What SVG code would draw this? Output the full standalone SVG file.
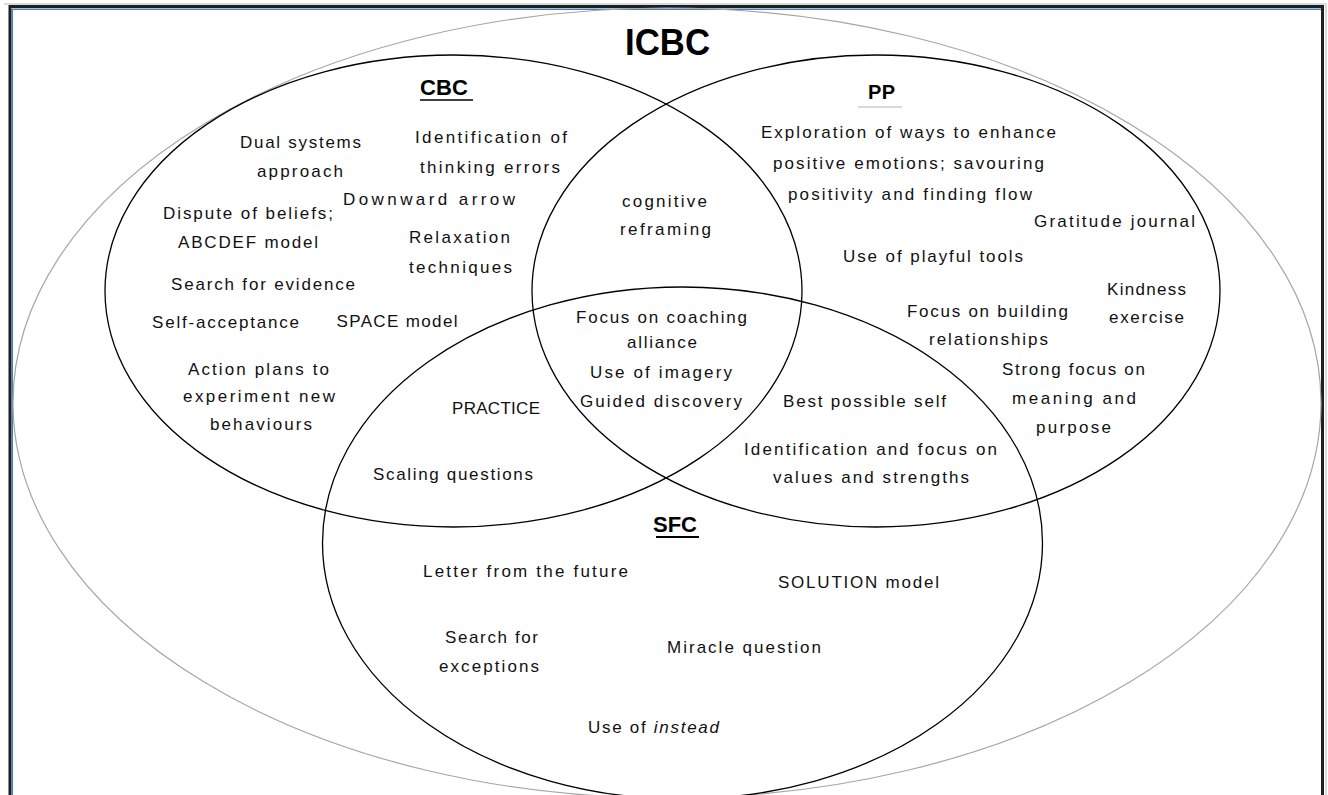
<svg xmlns="http://www.w3.org/2000/svg" width="1328" height="795" viewBox="0 0 1328 795">
<style>
.t{font-family:"Liberation Sans",Arial,sans-serif;font-size:17px;fill:#111;text-anchor:middle}
.h{font-family:"Liberation Sans",Arial,sans-serif;font-weight:bold;fill:#000;text-anchor:middle}
.c{fill:none;stroke:#000;stroke-width:1.3}
.o{fill:none;stroke:#a6a6a6;stroke-width:1.2}
</style>
<rect x="0" y="0" width="1328" height="795" fill="#fff"/>
<g id="frame">
<path d="M4,4 H1326 V795" fill="none" stroke="#cfcfcf" stroke-width="1.5"/>
<path d="M10,795 V6.5 H1322.5 V795" fill="none" stroke="#1f1f1f" stroke-width="3"/>
<path d="M12.2,795 V9.2 H1321" fill="none" stroke="#4a7ebb" stroke-width="1.6"/>
</g>
<g id="shapes">
<ellipse id="icbc-outline" class="o" cx="667" cy="403" rx="654" ry="395"/>
<ellipse id="cbc-circle" class="c" cx="453.5" cy="291" rx="348.5" ry="236"/>
<ellipse id="pp-circle" class="c" cx="876" cy="291" rx="344" ry="236"/>
<ellipse id="sfc-circle" class="c" cx="682.5" cy="543" rx="360" ry="256"/>
</g>
<g id="titles">
<text class="h" x="667.5" y="55" font-size="36" textLength="85" lengthAdjust="spacingAndGlyphs">ICBC</text>
<g id="cbc-title"><text class="h" x="444" y="95" font-size="22" textLength="48">CBC</text><line x1="420" y1="100" x2="473" y2="100" stroke="#000" stroke-width="1.5"/></g>
<g id="pp-title"><text class="h" x="881.5" y="99" font-size="20" textLength="27">PP</text><line x1="858" y1="107" x2="902" y2="107" stroke="#b5b5b5" stroke-width="1"/></g>
<g id="sfc-title"><text class="h" x="675" y="532" font-size="22" textLength="44">SFC</text><line x1="656" y1="537" x2="699" y2="537" stroke="#000" stroke-width="2"/></g>
</g>
<g id="cbc-items">
<g id="n-dual"><text class="t" x="300.5" y="148" textLength="121">Dual systems</text><text class="t" x="300" y="177" textLength="86">approach</text></g>
<g id="n-identify-errors"><text class="t" x="491" y="143" textLength="152">Identification of</text><text class="t" x="490" y="173" textLength="140">thinking errors</text></g>
<g id="n-downward"><text class="t" x="429" y="205" textLength="172">Downward arrow</text></g>
<g id="n-dispute"><text class="t" x="248" y="219" textLength="170">Dispute of beliefs;</text><text class="t" x="248" y="248" textLength="140">ABCDEF model</text></g>
<g id="n-relax"><text class="t" x="459.5" y="243" textLength="101">Relaxation</text><text class="t" x="460.5" y="273" textLength="103">techniques</text></g>
<g id="n-evidence"><text class="t" x="263" y="290" textLength="184">Search for evidence</text></g>
<g id="n-selfacc"><text class="t" x="225.5" y="328" textLength="147">Self-acceptance</text></g>
<g id="n-space"><text class="t" x="397" y="327" textLength="121">SPACE model</text></g>
<g id="n-action"><text class="t" x="258.5" y="375" textLength="141">Action plans to</text><text class="t" x="259" y="402" textLength="152">experiment new</text><text class="t" x="261" y="430" textLength="102">behaviours</text></g>
</g>
<g id="cbc-pp-items">
<g id="n-reframe"><text class="t" x="664.5" y="207" textLength="85">cognitive</text><text class="t" x="665.5" y="235" textLength="91">reframing</text></g>
</g>
<g id="pp-items">
<g id="n-explore"><text class="t" x="908.5" y="138" textLength="295">Exploration of ways to enhance</text><text class="t" x="908.5" y="169" textLength="271">positive emotions; savouring</text><text class="t" x="910" y="200" textLength="244">positivity and finding flow</text></g>
<g id="n-gratitude"><text class="t" x="1114.5" y="227" textLength="161">Gratitude journal</text></g>
<g id="n-playful"><text class="t" x="933" y="262" textLength="180">Use of playful tools</text></g>
<g id="n-kindness"><text class="t" x="1146.5" y="295" textLength="79">Kindness</text><text class="t" x="1146.5" y="323" textLength="75">exercise</text></g>
<g id="n-relationships"><text class="t" x="987.5" y="317" textLength="161">Focus on building</text><text class="t" x="988.5" y="345" textLength="119">relationships</text></g>
<g id="n-meaning"><text class="t" x="1073.5" y="375" textLength="143">Strong focus on</text><text class="t" x="1074" y="404" textLength="124">meaning and</text><text class="t" x="1073.5" y="433" textLength="75">purpose</text></g>
</g>
<g id="center-items">
<g id="n-alliance"><text class="t" x="661.5" y="323" textLength="171">Focus on coaching</text><text class="t" x="662" y="348" textLength="70">alliance</text></g>
<g id="n-imagery"><text class="t" x="661" y="378" textLength="142">Use of imagery</text></g>
<g id="n-guided"><text class="t" x="661" y="407" textLength="162">Guided discovery</text></g>
</g>
<g id="cbc-sfc-items">
<g id="n-practice"><text class="t" x="496" y="414" textLength="88">PRACTICE</text></g>
<g id="n-scaling"><text class="t" x="453" y="480" textLength="160">Scaling questions</text></g>
</g>
<g id="pp-sfc-items">
<g id="n-bestself"><text class="t" x="864.5" y="407" textLength="163">Best possible self</text></g>
<g id="n-values"><text class="t" x="870.5" y="455" textLength="253">Identification and focus on</text><text class="t" x="871" y="483" textLength="196">values and strengths</text></g>
</g>
<g id="sfc-items">
<g id="n-letter"><text class="t" x="525.5" y="577" textLength="205">Letter from the future</text></g>
<g id="n-solution"><text class="t" x="858.5" y="588" textLength="161">SOLUTION model</text></g>
<g id="n-exceptions"><text class="t" x="491.5" y="643" textLength="93">Search for</text><text class="t" x="489" y="672" textLength="100">exceptions</text></g>
<g id="n-miracle"><text class="t" x="744" y="653" textLength="154">Miracle question</text></g>
<g id="n-instead"><text class="t" x="653.5" y="733" textLength="131">Use of <tspan font-style="italic">instead</tspan></text></g>
</g>
</svg>
